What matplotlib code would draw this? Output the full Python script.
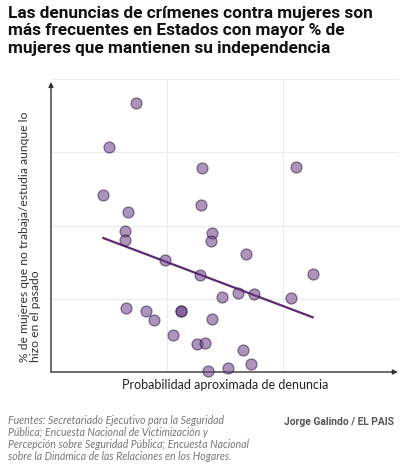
import matplotlib
matplotlib.use("Agg")
import matplotlib.pyplot as plt
import numpy as np

# Data (arbitrary units; axes have no tick labels)
prob_denuncia = [0.730, 0.500, 1.302, 2.112, 0.448, 1.291, 0.661, 0.638, 1.391, 0.638,
                 1.382, 1.678, 0.980, 2.261, 1.282, 1.609, 1.747, 1.472, 2.069, 0.647,
                 0.822, 1.123, 1.123, 0.891, 1.391, 1.049, 1.256, 1.330, 1.658, 1.722,
                 1.528, 1.351]
pct_mujeres = [3.672, 3.072, 2.789, 2.803, 2.420, 2.280, 2.184, 1.921, 1.902, 1.802,
               1.784, 1.611, 1.525, 1.338, 1.324, 1.083, 1.069, 1.020, 1.006, 0.878,
               0.829, 0.837, 0.837, 0.710, 0.719, 0.505, 0.386, 0.396, 0.296, 0.109,
               0.059, 0.018]
trend_x = [0.451, 2.256]
trend_y = [1.829, 0.747]

title = ("Las denuncias de crímenes contra mujeres son\n"
         "más frecuentes en Estados con mayor % de\n"
         "mujeres que mantienen su independencia")
ylabel = "% de mujeres que no trabaja/estudia aunque lo\nhizo en el pasado"
xlabel = "Probabilidad aproximada de denuncia"
source = ("Fuentes: Secretariado Ejecutivo para la Seguridad\n"
          "Pública; Encuesta Nacional de Victimización y\n"
          "Percepción sobre Seguridad Pública; Encuesta Nacional\n"
          "sobre la Dinámica de las Relaciones en los Hogares.")
credit = "Jorge Galindo / EL PAIS"

W, H = 414, 472
fig = plt.figure(figsize=(W / 100, H / 100), dpi=100)
ax = fig.add_axes([51 / W, 1 - 372 / H, (399 - 51) / W, (372 - 79) / H])
ax.set_xlim(0, 3)
ax.set_ylim(0, 4)

for v in [1, 2, 3]:
    ax.axvline(v, color="#ececec", lw=0.8, zorder=0)
for v in [1, 2, 3, 4]:
    ax.axhline(v, color="#ececec", lw=0.8, zorder=0)

ax.plot(trend_x, trend_y, color="#5b2a70", lw=1.6, zorder=2)
ax.scatter(prob_denuncia, pct_mujeres, s=62, facecolor="#6b3d85", alpha=0.55,
           edgecolor="#2e1240", linewidth=0.9, zorder=3, clip_on=False)

for s in ax.spines.values():
    s.set_visible(False)
ax.set_xticks([])
ax.set_yticks([])

# axis arrows
ax.annotate("", xy=(2.99, 0), xytext=(0, 0), xycoords="data",
            arrowprops=dict(arrowstyle="-|>", color="#333333", lw=1.0,
                            mutation_scale=7, shrinkA=0, shrinkB=0), zorder=1)
ax.annotate("", xy=(0, 3.96), xytext=(0, 0), xycoords="data",
            arrowprops=dict(arrowstyle="-|>", color="#333333", lw=1.0,
                            mutation_scale=7, shrinkA=0, shrinkB=0), zorder=1)

fig.text(8 / W, 1 - 6 / H, title, ha="left", va="top", fontsize=12.4,
         fontweight="bold", family="Roboto", color="#111111", linespacing=1.2)

fig.text(30 / W, 1 - 362 / H, ylabel, rotation=90, ha="left", va="center",
         fontsize=8.7, family="Lato", color="#333333", linespacing=1.1,
         multialignment="left", rotation_mode="anchor")

fig.text(225 / W, 1 - 385 / H, xlabel, ha="center", va="center", fontsize=9.0,
         family="Lato", color="#222222")

fig.text(8 / W, 1 - 415 / H, source, ha="left", va="top", fontsize=7.6,
         family="Lato", style="italic", color="#777777", linespacing=1.12)
fig.text(394 / W, 1 - 422 / H, credit, ha="right", va="center", fontsize=7.4,
         family="Roboto", fontweight="bold", color="#555555")

fig.savefig("out.png", dpi=100)
